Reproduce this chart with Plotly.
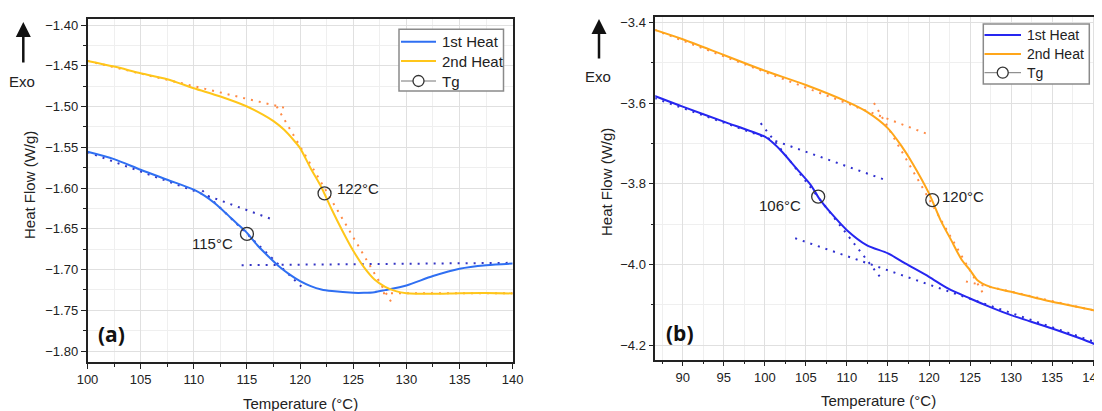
import plotly.graph_objects as go

# ---------------- data ----------------
# Panel (a)
a_T1 = [100, 102.5, 105, 107.5, 110, 111, 112, 113, 114, 115, 116, 117, 118, 119, 120,
        121, 122, 123, 125, 126, 127, 128, 130, 132.5, 135, 137.5, 140]
a_H1 = [-1.5555, -1.5645, -1.5776, -1.5898, -1.602, -1.6094, -1.619, -1.6306, -1.6429,
        -1.655, -1.6706, -1.6837, -1.696, -1.706, -1.7143, -1.7204, -1.7245, -1.7265,
        -1.7286, -1.7286, -1.7278, -1.7253, -1.7196, -1.708, -1.699, -1.6947, -1.6927]
a_T2 = [100, 102.5, 105, 107.5, 110, 112.5, 115, 116.5, 117.5, 118.5, 119.5, 120, 121, 122,
        123, 124, 125, 126, 127, 128, 129, 130, 132.5, 135, 137.5, 140]
a_H2 = [-1.4441, -1.451, -1.4592, -1.4665, -1.4776, -1.4878, -1.50, -1.510, -1.518, -1.5286,
        -1.5429, -1.551, -1.576, -1.599, -1.627, -1.653, -1.677, -1.697, -1.7122, -1.7212,
        -1.7265, -1.729, -1.7298, -1.729, -1.7288, -1.7294]
a_tg_T = [115.0, 122.3]
a_tg_H = [-1.6563, -1.6066]
a_tg_lbl = ["115°C", "122°C"]
# tangent construction lines (start/end temperature and heat flow)
a_tan1_T = [[100, 117.5], [110.8, 120.2], [114.5, 140]]
a_tan1_H = [[-1.556, -1.639], [-1.603, -1.722], [-1.6947, -1.6918]]
a_tan2_T = [[100, 118.5], [117.8, 128.8], [127.8, 140]]
a_tan2_H = [[-1.444, -1.5014], [-1.50, -1.745], [-1.729, -1.729]]

# Panel (b)
b_T1 = [86.6, 90, 95, 100, 100.85, 102.1, 103.85, 105.6, 106.7, 108.1, 110, 112.4, 115,
        117.1, 120, 122.3, 125, 127.4, 130, 135, 140, 140.9]
b_H1 = [-3.5826, -3.609, -3.646, -3.6835, -3.696, -3.7207, -3.762, -3.8033, -3.8388,
        -3.8736, -3.915, -3.952, -3.9727, -3.9975, -4.0306, -4.0595, -4.0843, -4.105,
        -4.1256, -4.1587, -4.1959, -4.205]
b_T2 = [86.6, 90, 95, 100, 105, 110, 112.4, 115, 116.7, 118, 120, 121.4, 122.7, 124, 125,
        125.9, 127.4, 130, 135, 140, 140.9]
b_H2 = [-3.419, -3.442, -3.481, -3.520, -3.5554, -3.5967, -3.6215, -3.6628, -3.708, -3.7496,
        -3.824, -3.890, -3.9397, -3.989, -4.014, -4.039, -4.055, -4.0678, -4.0926, -4.1132,
        -4.119]
b_tg_T = [106.5, 120.4]
b_tg_H = [-3.832, -3.8405]
b_tg_lbl = ["106°C", "120°C"]
b_tan1_T = [[86.6, 114.6], [99.5, 114.0], [103.7, 140.9]]
b_tan1_H = [[-3.588, -3.79], [-3.65, -4.03], [-3.935, -4.197]]
b_tan2_T = [[86.6, 119.7], [113.3, 126.6], [124.5, 140.9]]
b_tan2_H = [[-3.419, -3.676], [-3.60, -4.072], [-4.042, -4.118]]

legend_names = ["1st Heat", "2nd Heat", "Tg"]
x_ticks = list(range(85, 145, 5))

# ---------------- figure ----------------
OFF = 8                      # page body margin
W, H = 1102 - OFF, 411 - OFF
def px(x): return (x - OFF) / W
def py(y): return 1 - (y - OFF) / H

FONT = "Arial, Liberation Sans, sans-serif"
fig = go.Figure()
shapes = []
ann = []

def txt(x, y, s, xref="paper", yref="paper", size=15, xanchor="center", **kw):
    ann.append(dict(x=x, y=y, xref=xref, yref=yref, text=s, showarrow=False,
                    xanchor=xanchor, yanchor="middle",
                    font=dict(family=kw.pop("family", FONT), size=size,
                              color=kw.pop("color", "#222")), **kw))

def add_panel(xa, ya, T1, H1, T2, H2, tgT, tgH, tan1T, tan1H, tan2T, tan2H,
              c1, c2, d1, d2):
    for tt, hh in zip(tan1T, tan1H):
        fig.add_trace(go.Scatter(x=tt, y=hh, mode="lines", xaxis=xa, yaxis=ya,
                                 line=dict(color=d1, width=2, dash="2px,6px"),
                                 showlegend=False, hoverinfo="skip"))
    for tt, hh in zip(tan2T, tan2H):
        fig.add_trace(go.Scatter(x=tt, y=hh, mode="lines", xaxis=xa, yaxis=ya,
                                 line=dict(color=d2, width=2, dash="2px,6px"),
                                 showlegend=False, hoverinfo="skip"))
    fig.add_trace(go.Scatter(x=T1, y=H1, mode="lines", name=legend_names[0], xaxis=xa, yaxis=ya,
                             line=dict(color=c1, width=2, shape="spline", smoothing=0.8),
                             showlegend=False))
    fig.add_trace(go.Scatter(x=T2, y=H2, mode="lines", name=legend_names[1], xaxis=xa, yaxis=ya,
                             line=dict(color=c2, width=2, shape="spline", smoothing=0.8),
                             showlegend=False))
    fig.add_trace(go.Scatter(x=tgT, y=tgH, mode="markers", name=legend_names[2],
                             xaxis=xa, yaxis=ya,
                             marker=dict(symbol="circle-open", size=13, color="#333",
                                         line=dict(width=1.3, color="#333")),
                             showlegend=False))

def add_legend(x0, x1, y0, y1, rows, lx0, lx1, tx, c1, c2, fs):
    shapes.append(dict(type="rect", xref="paper", yref="paper", x0=px(x0), x1=px(x1),
                       y0=py(y1), y1=py(y0), line=dict(color="#8a8a8a", width=1.5),
                       fillcolor="white", layer="above"))
    for r, col in zip(rows[:2], [c1, c2]):
        shapes.append(dict(type="line", xref="paper", yref="paper", x0=px(lx0), x1=px(lx1),
                           y0=py(r), y1=py(r), line=dict(color=col, width=2), layer="above"))
    r = rows[2]
    shapes.append(dict(type="line", xref="paper", yref="paper", x0=px(lx0), x1=px(lx1),
                       y0=py(r), y1=py(r), line=dict(color="#777", width=1), layer="above"))
    cx = (lx0 + lx1) / 2
    shapes.append(dict(type="circle", xref="paper", yref="paper", xsizemode="pixel",
                       ysizemode="pixel", xanchor=px(cx), yanchor=py(r),
                       x0=-5.5, x1=5.5, y0=-5.5, y1=5.5, fillcolor="white",
                       line=dict(color="#333", width=1.3), layer="above"))
    for r, s in zip(rows, legend_names):
        txt(px(tx), py(r), s, xanchor="left", size=fs)

add_panel("x", "y", a_T1, a_H1, a_T2, a_H2, a_tg_T, a_tg_H, a_tan1_T, a_tan1_H,
          a_tan2_T, a_tan2_H, "#2f6ff2", "#ffc61a", "#3535c4", "#ff8a45")
add_panel("x2", "y2", b_T1, b_H1, b_T2, b_H2, b_tg_T, b_tg_H, b_tan1_T, b_tan1_H,
          b_tan2_T, b_tan2_H, "#2626f0", "#ffa61a", "#2f2fcf", "#ff8a45")
add_legend(399, 503.5, 29.3, 91, [41.7, 61, 81], 401, 436, 440, "#2f6ff2", "#ffc61a", 15)
add_legend(983.3, 1089.3, 24, 84, [35, 54, 72.7], 984.5, 1021, 1025, "#2626f0", "#ffa61a", 14)

axis_common = dict(showline=True, linecolor="#222", linewidth=1.5, mirror=True,
                   ticks="outside", ticklen=5, tickwidth=1.2, tickcolor="#222",
                   showgrid=True, gridcolor="#e0e0e0", gridwidth=1.2, zeroline=False,
                   automargin=False, ticklabeloverflow="allow",
                   tickfont=dict(family=FONT, size=13, color="#222"))

fig.update_layout(
    width=W, height=H, margin=dict(l=0, r=0, t=0, b=0, autoexpand=False),
    plot_bgcolor="white", paper_bgcolor="white", showlegend=False,
    xaxis=dict(domain=[px(87.5), px(512.7)], range=[100, 140], anchor="y",
               tickvals=x_ticks, ticktext=[str(v) for v in x_ticks],
               minor=dict(dtick=2.5, tick0=0, ticks="outside", ticklen=3, tickcolor="#222",
                          showgrid=True, gridcolor="#efefef"), **axis_common),
    yaxis=dict(domain=[py(362), py(18.5)], range=[-1.8135, -1.392], anchor="x",
               dtick=0.05, tick0=0, tickformat=".2f",
               minor=dict(dtick=0.025, tick0=0, ticks="outside", ticklen=3, tickcolor="#222",
                          showgrid=True, gridcolor="#efefef"), **axis_common),
    xaxis2=dict(domain=[px(655.3), px(1100.5)], range=[86.66, 140.89], anchor="y2",
                tickvals=x_ticks, ticktext=[str(v) for v in x_ticks],
                minor=dict(dtick=2.5, tick0=0, ticks="outside", ticklen=3, tickcolor="#222",
                           showgrid=True, gridcolor="#efefef"), **axis_common),
    yaxis2=dict(domain=[py(359.5), py(17.3)], range=[-4.2355, -3.3876], anchor="x2",
                dtick=0.2, tick0=0, tickformat=".1f",
                minor=dict(dtick=0.1, tick0=0, ticks="outside", ticklen=3, tickcolor="#222",
                           showgrid=True, gridcolor="#efefef"), **axis_common),
)

# Tg labels
txt(113.9, -1.6675, a_tg_lbl[0], "x", "y", xanchor="right")
txt(123.3, -1.600, a_tg_lbl[1], "x", "y", xanchor="left")
txt(104.7, -3.853, b_tg_lbl[0], "x2", "y2", xanchor="right")
txt(121.3, -3.8305, b_tg_lbl[1], "x2", "y2", xanchor="left")

# panel letters
txt(px(111), py(334), "<b>(a)</b>", size=21, family="Open Sans, Arial", color="#111")
txt(px(680), py(333), "<b>(b)</b>", size=21, family="Open Sans, Arial", color="#111")

# axis titles
txt(px(300), py(403), "Temperature (°C)")
txt(px(878), py(400), "Temperature (°C)")
txt(px(29), py(185), "Heat Flow (W/g)", textangle=-90)
txt(px(606), py(182), "Heat Flow (W/g)", textangle=-90)
# Exo labels and arrows
txt(px(22), py(81), "Exo")
txt(px(597.5), py(77), "Exo")
for xx, y0, y1 in [(23.3, 22, 64), (599, 19, 60)]:
    ann.append(dict(x=px(xx), y=py(y0), ax=0, ay=y1 - y0, xref="paper", yref="paper",
                    axref="pixel", ayref="pixel", text="", showarrow=True,
                    arrowhead=2, arrowsize=1.2, arrowwidth=2.5, arrowcolor="#111"))
fig.update_layout(annotations=ann, shapes=shapes)

fig.write_html("out.html")
